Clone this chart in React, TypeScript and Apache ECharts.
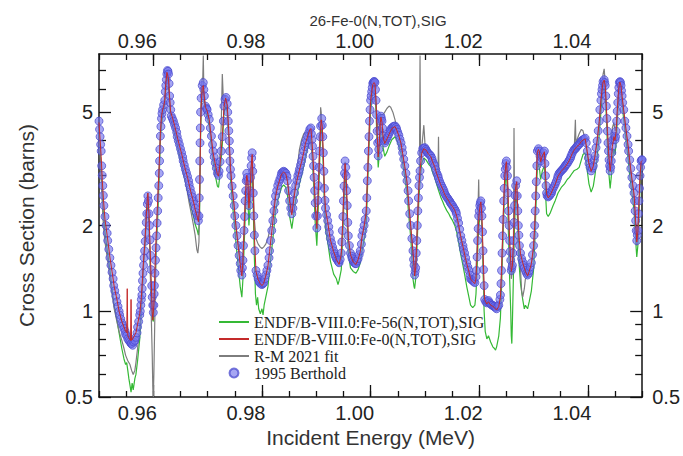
import React, { useEffect, useRef } from "react";
import * as echarts from "echarts";

const chartTitle = "26-Fe-0(N,TOT),SIG";
const xTitle = "Incident Energy (MeV)";
const yTitle = "Cross Section (barns)";
const seriesNames = [
  "ENDF/B-VIII.0:Fe-56(N,TOT),SIG",
  "ENDF/B-VIII.0:Fe-0(N,TOT),SIG",
  "R-M 2021 fit",
  "1995 Berthold",
];
const xMajorTicks = [0.96, 0.98, 1.0, 1.02, 1.04];
const yMajorTicks = [0.5, 1, 2, 5];
const yMinorTicks = [0.6, 0.7, 0.8, 0.9, 3, 4, 6, 7];

const bertholdData = [
[0.9500,4.65],[0.9501,4.35],[0.9502,4.1],[0.9503,3.85],[0.9504,3.65],[0.9505,3.24],[0.9506,3.0],[0.9507,2.76],[0.9508,2.55],[0.9509,2.35],[0.9511,2.15],[0.9513,2.0],[0.9515,1.88],[0.9516,1.77],[0.9518,1.65],[0.9520,1.54],[0.9522,1.45],[0.9524,1.37],[0.9526,1.3],[0.9527,1.23],[0.9529,1.18],[0.9531,1.13],[0.9533,1.08],[0.9535,1.04],[0.9537,1.0],[0.9538,0.97],[0.9540,0.94],[0.9542,0.91],[0.9544,0.89],[0.9546,0.87],[0.9548,0.85],[0.9549,0.83],[0.9551,0.82],[0.9553,0.80],[0.9555,0.79],[0.9557,0.78],[0.9559,0.77],[0.9560,0.77],[0.9562,0.76],[0.9564,0.78],[0.9566,0.79],[0.9568,0.81],[0.9570,0.84],[0.9571,0.88],[0.9573,0.92],[0.9575,0.97],[0.9576,1.0],[0.9577,1.05],[0.9578,1.1],[0.9579,1.14],[0.95795,1.2],[0.9580,1.28],[0.9581,1.36],[0.9582,1.45],[0.9583,1.54],[0.9584,1.63],[0.9585,1.76],[0.9586,1.89],[0.9587,2.05],[0.9588,2.2],[0.9589,2.38],[0.9590,2.54],[0.9591,2.44],[0.9592,2.2],[0.9593,2.0],[0.9594,1.78],[0.9595,1.57],[0.9596,1.4],[0.9597,1.23],[0.9598,1.12],[0.9599,1.05],[0.9600,0.99],[0.9601,1.05],[0.96015,1.15],[0.9602,1.23],[0.9603,1.36],[0.9604,1.51],[0.9605,1.67],[0.9606,1.84],[0.9607,2.04],[0.9608,2.25],[0.9609,2.5],[0.9610,2.76],[0.9611,3.05],[0.96115,3.37],[0.9612,3.7],[0.9613,4.12],[0.9614,4.45],[0.9615,4.75],[0.9616,4.95],[0.9617,5.1],[0.9619,5.3],[0.9621,5.5],[0.9622,5.9],[0.9623,6.2],[0.9624,6.5],[0.9625,6.8],[0.9626,7.0],[0.9627,6.95],[0.9628,6.8],[0.9629,6.3],[0.9630,5.7],[0.9631,5.4],[0.9632,5.1],[0.9633,4.85],[0.9635,4.75],[0.9637,4.65],[0.9639,4.52],[0.9641,4.4],[0.9643,4.25],[0.9644,4.1],[0.9646,3.97],[0.9648,3.85],[0.9650,3.72],[0.9652,3.6],[0.9654,3.48],[0.9655,3.37],[0.9657,3.26],[0.9659,3.15],[0.9661,3.06],[0.9663,2.97],[0.9665,2.87],[0.9666,2.78],[0.9668,2.69],[0.9670,2.6],[0.9672,2.52],[0.9674,2.44],[0.9676,2.37],[0.9677,2.3],[0.9679,2.22],[0.9681,2.16],[0.9683,2.08],[0.9684,2.16],[0.96845,2.5],[0.9685,2.9],[0.96855,3.37],[0.9686,3.9],[0.96865,4.4],[0.9687,5.0],[0.9688,5.6],[0.9690,6.2],[0.9692,6.35],[0.9693,6.0],[0.9694,5.7],[0.9696,5.25],[0.9698,5.15],[0.9699,5.1],[0.9701,4.9],[0.9703,4.72],[0.9705,4.4],[0.9707,4.12],[0.9709,3.85],[0.9710,3.65],[0.9712,3.48],[0.9714,3.32],[0.9716,3.18],[0.9718,3.05],[0.9720,3.0],[0.9721,3.1],[0.9723,3.35],[0.9725,3.65],[0.9727,4.1],[0.9729,4.65],[0.9730,5.25],[0.9732,5.55],[0.9734,5.63],[0.9736,5.35],[0.9737,5.0],[0.9738,4.65],[0.9739,4.3],[0.9740,3.96],[0.97405,3.65],[0.9741,3.37],[0.9742,3.15],[0.9743,2.99],[0.9745,2.75],[0.9747,2.54],[0.9749,2.35],[0.9750,2.16],[0.9752,2.0],[0.9754,1.84],[0.9756,1.7],[0.9758,1.57],[0.9760,1.47],[0.9761,1.39],[0.9763,1.34],[0.9764,1.42],[0.9765,1.51],[0.9766,1.7],[0.9767,1.92],[0.9768,2.15],[0.9769,2.44],[0.9770,2.65],[0.9771,2.87],[0.9772,3.05],[0.9773,2.95],[0.9774,2.87],[0.9775,2.6],[0.9776,2.35],[0.9777,2.5],[0.9778,2.65],[0.9779,2.95],[0.9780,3.24],[0.9781,3.45],[0.9782,3.6],[0.9783,3.1],[0.9784,2.6],[0.9785,2.16],[0.9786,1.85],[0.9787,1.63],[0.9789,1.39],[0.9791,1.34],[0.9793,1.3],[0.9795,1.27],[0.9796,1.26],[0.9798,1.25],[0.9800,1.24],[0.9802,1.25],[0.9803,1.26],[0.9805,1.3],[0.9807,1.34],[0.9809,1.39],[0.9811,1.45],[0.9813,1.54],[0.9814,1.63],[0.9816,1.77],[0.9818,1.92],[0.9820,2.08],[0.9822,2.25],[0.9824,2.4],[0.9825,2.54],[0.9827,2.65],[0.9829,2.76],[0.9831,2.84],[0.9833,2.91],[0.9835,2.98],[0.9836,3.05],[0.9838,3.08],[0.9840,3.1],[0.9842,3.08],[0.9844,3.05],[0.9846,2.98],[0.9847,2.87],[0.9849,2.65],[0.9851,2.44],[0.9853,2.3],[0.9855,2.2],[0.9857,2.3],[0.9858,2.44],[0.9860,2.6],[0.9862,2.76],[0.9864,2.88],[0.9866,2.99],[0.9868,3.07],[0.9869,3.15],[0.9871,3.26],[0.9873,3.37],[0.9875,3.5],[0.9877,3.65],[0.9879,3.78],[0.9880,3.9],[0.9882,4.0],[0.9884,4.12],[0.9886,4.23],[0.9888,4.35],[0.9890,4.4],[0.9891,4.2],[0.9892,4.0],[0.9893,3.8],[0.9894,3.5],[0.9895,3.24],[0.9896,2.95],[0.9897,2.65],[0.9898,2.4],[0.9899,2.16],[0.9901,1.96],[0.9902,2.16],[0.9903,2.45],[0.9904,2.76],[0.9905,3.2],[0.9906,3.65],[0.9907,4.1],[0.9908,4.47],[0.9910,4.75],[0.9911,4.5],[0.9912,4.1],[0.9913,3.6],[0.9914,3.1],[0.9915,2.7],[0.9916,2.45],[0.9917,2.3],[0.9919,2.18],[0.9921,2.08],[0.9923,1.98],[0.9924,1.89],[0.9926,1.8],[0.9928,1.74],[0.9930,1.68],[0.9932,1.63],[0.9934,1.59],[0.9935,1.56],[0.9937,1.53],[0.9939,1.51],[0.9941,1.49],[0.9942,1.48],[0.9944,1.52],[0.9946,1.6],[0.9947,1.75],[0.9948,1.92],[0.9949,2.15],[0.9950,2.44],[0.9951,2.75],[0.9952,3.05],[0.9953,3.37],[0.9954,3.2],[0.9955,2.99],[0.9956,2.65],[0.9957,2.35],[0.9958,2.05],[0.9959,1.84],[0.9961,1.7],[0.9963,1.6],[0.9965,1.56],[0.9966,1.53],[0.9968,1.5],[0.9970,1.48],[0.9972,1.47],[0.9973,1.47],[0.9975,1.5],[0.9977,1.53],[0.9979,1.58],[0.9981,1.63],[0.9983,1.72],[0.9984,1.84],[0.9986,1.92],[0.9988,2.0],[0.9990,2.1],[0.9992,2.25],[0.9993,2.5],[0.9994,2.87],[0.9995,3.2],[0.9996,3.65],[0.9997,4.1],[0.9998,4.65],[0.9999,5.1],[1.0000,5.5],[1.0001,5.7],[1.0002,5.9],[1.0003,6.1],[1.0004,6.3],[1.0005,6.35],[1.0006,6.4],[1.0007,6.4],[1.0008,6.35],[1.0009,6.0],[1.0010,5.5],[1.0011,4.9],[1.0012,4.29],[1.0013,3.9],[1.0014,3.51],[1.0015,3.7],[1.0016,3.96],[1.0017,4.3],[1.0018,4.65],[1.0019,4.84],[1.0020,4.75],[1.0021,4.65],[1.0022,4.4],[1.0023,4.12],[1.0025,3.96],[1.0026,3.9],[1.0028,3.98],[1.0030,4.05],[1.0032,4.12],[1.0034,4.2],[1.0036,4.28],[1.0037,4.35],[1.0039,4.4],[1.0041,4.44],[1.0043,4.46],[1.0045,4.47],[1.0047,4.42],[1.0048,4.35],[1.0050,4.25],[1.0052,4.15],[1.0054,4.02],[1.0056,3.9],[1.0058,3.75],[1.0059,3.6],[1.0061,3.42],[1.0063,3.24],[1.0065,3.05],[1.0067,2.87],[1.0069,2.65],[1.0070,2.44],[1.0072,2.2],[1.0074,2.0],[1.0076,1.8],[1.0078,1.63],[1.0079,1.52],[1.0080,1.45],[1.0081,1.34],[1.0082,1.38],[1.0083,1.42],[1.0084,1.6],[1.0085,1.77],[1.0086,2.0],[1.0087,2.25],[1.0088,2.5],[1.0089,2.76],[1.0090,2.95],[1.0091,3.11],[1.0092,3.37],[1.0094,3.6],[1.0096,3.72],[1.0098,3.74],[1.0100,3.75],[1.0102,3.7],[1.0103,3.65],[1.0105,3.6],[1.0107,3.57],[1.0109,3.54],[1.0111,3.51],[1.0113,3.44],[1.0114,3.37],[1.0116,3.3],[1.0118,3.24],[1.0120,3.14],[1.0122,3.05],[1.0124,2.99],[1.0125,2.93],[1.0127,2.86],[1.0129,2.8],[1.0131,2.75],[1.0133,2.7],[1.0135,2.65],[1.0136,2.6],[1.0138,2.56],[1.0140,2.52],[1.0142,2.49],[1.0144,2.46],[1.0146,2.43],[1.0147,2.4],[1.0149,2.37],[1.0151,2.35],[1.0153,2.31],[1.0155,2.28],[1.0157,2.24],[1.0158,2.2],[1.0160,2.12],[1.0162,2.04],[1.0164,1.94],[1.0166,1.84],[1.0168,1.77],[1.0170,1.7],[1.0171,1.65],[1.0173,1.6],[1.0175,1.54],[1.0177,1.48],[1.0179,1.43],[1.0181,1.39],[1.0183,1.34],[1.0184,1.3],[1.0186,1.29],[1.0188,1.28],[1.0190,1.27],[1.0192,1.26],[1.0194,1.32],[1.0195,1.39],[1.0196,1.55],[1.0197,1.77],[1.0198,1.95],[1.0199,2.16],[1.0200,2.25],[1.0201,2.35],[1.0202,2.4],[1.0203,2.44],[1.0204,2.3],[1.0205,2.16],[1.0206,1.9],[1.0207,1.63],[1.0208,1.4],[1.0209,1.23],[1.0210,1.1],[1.0212,1.08],[1.0214,1.07],[1.0216,1.08],[1.0217,1.09],[1.0219,1.07],[1.0221,1.06],[1.0223,1.05],[1.0225,1.05],[1.0227,1.04],[1.0228,1.04],[1.0230,1.03],[1.0232,1.02],[1.0234,1.04],[1.0236,1.05],[1.0238,1.1],[1.0239,1.14],[1.0240,1.25],[1.0241,1.39],[1.0242,1.6],[1.0243,1.84],[1.0244,2.1],[1.0245,2.44],[1.0246,2.7],[1.0247,2.99],[1.0248,3.15],[1.0249,3.3],[1.0250,3.37],[1.0251,3.2],[1.0252,2.99],[1.0253,2.6],[1.0254,2.25],[1.0255,2.0],[1.0256,1.77],[1.0257,1.62],[1.0258,1.51],[1.0259,1.39],[1.0260,1.42],[1.0261,1.45],[1.0262,1.6],[1.0263,1.77],[1.0264,2.05],[1.0265,2.35],[1.0266,2.55],[1.0267,2.76],[1.0269,2.87],[1.0270,2.54],[1.0271,2.25],[1.0272,2.0],[1.0273,1.85],[1.0274,1.7],[1.0276,1.6],[1.0278,1.53],[1.0280,1.49],[1.0281,1.45],[1.0283,1.42],[1.0285,1.39],[1.0287,1.36],[1.0289,1.34],[1.0291,1.36],[1.0292,1.39],[1.0294,1.43],[1.0296,1.48],[1.0298,1.58],[1.0300,1.7],[1.0301,1.85],[1.0302,2.0],[1.0303,2.25],[1.0304,2.54],[1.0305,2.85],[1.0306,3.24],[1.0307,3.65],[1.0309,3.72],[1.0311,3.65],[1.0312,3.5],[1.0313,3.37],[1.0315,3.45],[1.0316,3.51],[1.0318,3.6],[1.0320,3.65],[1.0321,3.3],[1.0322,2.99],[1.0323,2.76],[1.0324,2.6],[1.0325,2.54],[1.0327,2.52],[1.0329,2.54],[1.0331,2.57],[1.0333,2.6],[1.0334,2.65],[1.0336,2.7],[1.0338,2.75],[1.0340,2.8],[1.0342,2.86],[1.0344,2.93],[1.0345,2.99],[1.0347,3.05],[1.0349,3.08],[1.0351,3.11],[1.0353,3.14],[1.0355,3.17],[1.0357,3.2],[1.0358,3.24],[1.0360,3.27],[1.0362,3.3],[1.0364,3.35],[1.0366,3.4],[1.0368,3.45],[1.0369,3.51],[1.0371,3.58],[1.0373,3.65],[1.0375,3.7],[1.0377,3.72],[1.0379,3.76],[1.0380,3.8],[1.0382,3.83],[1.0384,3.85],[1.0386,3.9],[1.0388,3.96],[1.0390,3.98],[1.0391,4.0],[1.0393,4.02],[1.0395,4.05],[1.0397,3.9],[1.0399,3.65],[1.0401,3.45],[1.0402,3.3],[1.0404,3.2],[1.0406,3.11],[1.0408,3.18],[1.0410,3.24],[1.0412,3.4],[1.0413,3.51],[1.0415,3.75],[1.0417,3.96],[1.0419,4.3],[1.0421,4.65],[1.0422,5.1],[1.0424,5.5],[1.0425,5.8],[1.0426,6.0],[1.0427,6.2],[1.0428,6.4],[1.0430,6.5],[1.0431,6.35],[1.0432,6.2],[1.0433,5.7],[1.0434,5.25],[1.0435,4.75],[1.0436,4.29],[1.0437,3.9],[1.0438,3.65],[1.0439,3.4],[1.0440,3.24],[1.0441,3.11],[1.0442,3.2],[1.0443,3.37],[1.0444,3.6],[1.0445,3.8],[1.0446,4.0],[1.0448,4.12],[1.0450,4.0],[1.0451,4.1],[1.0452,4.29],[1.0453,4.65],[1.0454,5.04],[1.0455,5.4],[1.0456,5.8],[1.0457,6.1],[1.0458,6.35],[1.0459,6.4],[1.0460,6.35],[1.0461,6.2],[1.0462,5.95],[1.0463,5.7],[1.0464,5.4],[1.0466,5.1],[1.0468,4.65],[1.0470,4.4],[1.0472,4.12],[1.0474,3.85],[1.0475,3.65],[1.0477,3.4],[1.0479,3.17],[1.0481,2.95],[1.0483,2.76],[1.0485,2.6],[1.0486,2.44],[1.0487,2.25],[1.0488,2.08],[1.0489,1.92],[1.0490,1.77],[1.0491,1.85],[1.0492,1.92],[1.0493,2.2],[1.0494,2.44],[1.0495,2.7],[1.0496,2.99],[1.0497,3.2],[1.0498,3.37],[1.0499,3.4],[1.0500,3.4]
];

const endf0Data = [
[0.9500,4.6],[0.9502,4.0],[0.9504,3.5],[0.9506,2.9],[0.9508,2.5],[0.9511,2.1],[0.9515,1.85],[0.9520,1.55],[0.9524,1.38],[0.9528,1.22],[0.9533,1.1],[0.9537,1.0],[0.9542,0.92],[0.9546,0.88],[0.9549,0.85],[0.9551,0.84],[0.9552,1.2],[0.9553,0.82],[0.9556,0.8],[0.9558,0.79],[0.9559,1.1],[0.9560,0.79],[0.9562,0.8],[0.9565,0.82],[0.9568,0.84],[0.9571,0.9],[0.9575,0.98],[0.9578,1.12],[0.9580,1.3],[0.9582,1.5],[0.9585,1.8],[0.9587,2.15],[0.9589,2.5],[0.9590,2.6],[0.9592,2.2],[0.9594,1.7],[0.9596,1.3],[0.9598,1.0],[0.9599,0.93],[0.9601,1.05],[0.9603,1.4],[0.9605,1.8],[0.9607,2.2],[0.9609,2.7],[0.9611,3.3],[0.9613,4.2],[0.9615,4.8],[0.9617,5.1],[0.9619,5.2],[0.9621,5.5],[0.9623,6.3],[0.9625,6.9],[0.9626,6.8],[0.9628,6.5],[0.9630,5.6],[0.9632,5.0],[0.9635,4.8],[0.9639,4.5],[0.9644,4.1],[0.9648,3.82],[0.9652,3.58],[0.9655,3.38],[0.9659,3.14],[0.9663,2.95],[0.9666,2.78],[0.9670,2.58],[0.9674,2.42],[0.9677,2.28],[0.9681,2.14],[0.9683,2.06],[0.9685,2.3],[0.9686,3.2],[0.9687,4.3],[0.9688,5.2],[0.9690,6.1],[0.9692,6.2],[0.9694,5.6],[0.9696,5.2],[0.9699,5.05],[0.9703,4.7],[0.9707,4.05],[0.9710,3.6],[0.9714,3.3],[0.9718,3.02],[0.9720,2.98],[0.9723,3.3],[0.9727,4.1],[0.9730,5.2],[0.9733,5.6],[0.9736,5.3],[0.9738,4.6],[0.9740,3.9],[0.9742,3.2],[0.9745,2.75],[0.9749,2.33],[0.9752,2.0],[0.9756,1.7],[0.9760,1.46],[0.9763,1.33],[0.9765,1.5],[0.9767,1.9],[0.9769,2.4],[0.9771,2.85],[0.9772,3.0],[0.9774,2.85],[0.9776,2.3],[0.9778,2.6],[0.9780,3.2],[0.9782,3.55],[0.9784,2.6],[0.9786,1.85],[0.9789,1.38],[0.9793,1.29],[0.9797,1.25],[0.9800,1.23],[0.9803,1.25],[0.9807,1.33],[0.9811,1.44],[0.9814,1.62],[0.9818,1.9],[0.9822,2.23],[0.9825,2.52],[0.9829,2.74],[0.9833,2.9],[0.9836,3.03],[0.9840,3.08],[0.9844,3.03],[0.9847,2.85],[0.9851,2.42],[0.9855,2.18],[0.9858,2.42],[0.9862,2.74],[0.9866,2.97],[0.9869,3.13],[0.9873,3.35],[0.9877,3.62],[0.9880,3.88],[0.9884,4.1],[0.9888,4.33],[0.9890,4.38],[0.9892,3.98],[0.9894,3.48],[0.9896,2.93],[0.9898,2.38],[0.9901,1.95],[0.9903,2.42],[0.9905,3.15],[0.9907,4.05],[0.9909,4.7],[0.9911,4.45],[0.9913,3.55],[0.9915,2.68],[0.9917,2.28],[0.9921,2.06],[0.9926,1.78],[0.9932,1.62],[0.9937,1.52],[0.9942,1.46],[0.9946,1.58],[0.9948,1.9],[0.9950,2.4],[0.9952,3.0],[0.9953,3.3],[0.9955,2.95],[0.9957,2.32],[0.9959,1.82],[0.9963,1.58],[0.9968,1.49],[0.9973,1.46],[0.9977,1.52],[0.9981,1.62],[0.9984,1.82],[0.9988,1.98],[0.9992,2.22],[0.9994,2.85],[0.9996,3.6],[0.9998,4.6],[1.0000,5.45],[1.0002,5.85],[1.0004,6.25],[1.0006,6.35],[1.0008,6.3],[1.0010,5.45],[1.0012,4.25],[1.0014,3.48],[1.0016,3.92],[1.0018,4.6],[1.0019,4.8],[1.0021,4.6],[1.0023,4.1],[1.0026,3.88],[1.0030,4.02],[1.0034,4.18],[1.0039,4.38],[1.0045,4.45],[1.0048,4.33],[1.0052,4.13],[1.0056,3.88],[1.0059,3.58],[1.0063,3.22],[1.0067,2.85],[1.0070,2.42],[1.0074,1.98],[1.0078,1.62],[1.0080,1.44],[1.0081,1.33],[1.0083,1.42],[1.0085,1.76],[1.0087,2.23],[1.0089,2.74],[1.0091,3.1],[1.0094,3.58],[1.0098,3.72],[1.0102,3.68],[1.0107,3.55],[1.0111,3.49],[1.0114,3.35],[1.0118,3.22],[1.0122,3.03],[1.0125,2.92],[1.0129,2.78],[1.0133,2.68],[1.0136,2.58],[1.0140,2.5],[1.0144,2.44],[1.0147,2.38],[1.0151,2.33],[1.0155,2.26],[1.0158,2.18],[1.0162,2.02],[1.0166,1.83],[1.0170,1.69],[1.0173,1.59],[1.0177,1.47],[1.0181,1.38],[1.0184,1.3],[1.0188,1.27],[1.0192,1.25],[1.0194,1.3],[1.0196,1.55],[1.0198,1.95],[1.0200,2.22],[1.0202,2.38],[1.0203,2.42],[1.0205,2.15],[1.0207,1.62],[1.0209,1.22],[1.0210,1.1],[1.0214,1.06],[1.0217,1.08],[1.0221,1.05],[1.0225,1.04],[1.0228,1.03],[1.0232,1.01],[1.0236,1.04],[1.0239,1.12],[1.0241,1.38],[1.0243,1.82],[1.0245,2.42],[1.0247,2.97],[1.0249,3.28],[1.0250,3.35],[1.0252,2.97],[1.0254,2.23],[1.0256,1.76],[1.0258,1.5],[1.0259,1.38],[1.0261,1.44],[1.0263,1.76],[1.0265,2.33],[1.0267,2.74],[1.0269,2.85],[1.0271,2.23],[1.0273,1.84],[1.0276,1.59],[1.0280,1.48],[1.0285,1.38],[1.0289,1.33],[1.0292,1.38],[1.0296,1.47],[1.0300,1.69],[1.0302,1.98],[1.0304,2.52],[1.0306,3.22],[1.0307,3.62],[1.0309,3.7],[1.0311,3.62],[1.0313,3.35],[1.0316,3.5],[1.0320,3.63],[1.0322,2.97],[1.0324,2.58],[1.0327,2.5],[1.0331,2.56],[1.0336,2.69],[1.0340,2.79],[1.0345,2.98],[1.0351,3.1],[1.0357,3.19],[1.0362,3.29],[1.0366,3.39],[1.0371,3.57],[1.0375,3.69],[1.0380,3.79],[1.0384,3.84],[1.0388,3.95],[1.0391,3.99],[1.0395,4.03],[1.0399,3.63],[1.0402,3.29],[1.0406,3.1],[1.0410,3.23],[1.0413,3.5],[1.0417,3.95],[1.0421,4.63],[1.0424,5.48],[1.0426,5.98],[1.0428,6.38],[1.0430,6.48],[1.0432,6.18],[1.0434,5.23],[1.0436,4.28],[1.0438,3.63],[1.0441,3.1],[1.0443,3.35],[1.0445,3.78],[1.0448,4.1],[1.0450,3.98],[1.0452,4.28],[1.0454,5.02],[1.0456,5.78],[1.0458,6.33],[1.0459,6.38],[1.0461,6.18],[1.0463,5.68],[1.0466,5.08],[1.0470,4.38],[1.0474,3.83],[1.0477,3.38],[1.0481,2.93],[1.0485,2.58],[1.0487,2.23],[1.0489,1.9],[1.0490,1.75],[1.0492,1.9],[1.0494,2.42],[1.0496,2.97],[1.0498,3.35],[1.0500,3.38]
];

const endf56Data = [
[0.9500,4.3],[0.9502,3.7],[0.9504,3.1],[0.9506,2.6],[0.9508,2.2],[0.9511,1.9],[0.9515,1.65],[0.9520,1.4],[0.9524,1.2],[0.9528,1.05],[0.9533,0.93],[0.9537,0.84],[0.9542,0.74],[0.9546,0.68],[0.9549,0.65],[0.9551,0.66],[0.9553,0.62],[0.9555,0.58],[0.9557,0.55],[0.9559,0.52],[0.9561,0.56],[0.9563,0.53],[0.9566,0.58],[0.9568,0.6],[0.9571,0.67],[0.9575,0.8],[0.9578,1.0],[0.9580,1.2],[0.9582,1.45],[0.9585,1.75],[0.9587,2.05],[0.9589,2.4],[0.9590,2.45],[0.9592,2.0],[0.9594,1.5],[0.9596,1.15],[0.9598,0.95],[0.9600,0.92],[0.9602,1.1],[0.9605,1.6],[0.9608,2.1],[0.9611,3.0],[0.9613,4.0],[0.9615,4.5],[0.9617,4.8],[0.9619,5.0],[0.9621,5.3],[0.9623,6.0],[0.9625,6.6],[0.9626,6.6],[0.9628,6.2],[0.9630,5.3],[0.9632,4.7],[0.9635,4.5],[0.9639,4.2],[0.9644,3.8],[0.9648,3.5],[0.9652,3.28],[0.9655,3.08],[0.9659,2.85],[0.9663,2.65],[0.9666,2.48],[0.9670,2.3],[0.9674,2.15],[0.9677,2.02],[0.9681,1.92],[0.9683,1.85],[0.9685,2.1],[0.9686,3.0],[0.9687,4.1],[0.9688,5.0],[0.9690,5.9],[0.9692,6.0],[0.9694,5.4],[0.9696,5.0],[0.9699,4.85],[0.9703,4.45],[0.9707,3.8],[0.9710,3.35],[0.9714,3.0],[0.9718,2.75],[0.9720,2.72],[0.9723,3.05],[0.9727,3.85],[0.9730,4.9],[0.9733,5.3],[0.9736,5.0],[0.9738,4.3],[0.9740,3.6],[0.9742,2.95],[0.9745,2.45],[0.9749,2.05],[0.9752,1.75],[0.9756,1.45],[0.9760,1.22],[0.9763,1.12],[0.9765,1.3],[0.9767,1.65],[0.9769,2.1],[0.9771,2.55],[0.9772,2.7],[0.9774,2.5],[0.9776,2.0],[0.9778,2.3],[0.9780,2.9],[0.9782,3.3],[0.9784,2.3],[0.9786,1.55],[0.9788,1.15],[0.9790,1.05],[0.9792,1.12],[0.9794,1.02],[0.9797,0.98],[0.9800,1.02],[0.9802,0.97],[0.9804,1.05],[0.9807,1.12],[0.9811,1.22],[0.9814,1.4],[0.9818,1.65],[0.9822,1.95],[0.9825,2.25],[0.9829,2.45],[0.9833,2.6],[0.9836,2.72],[0.9840,2.78],[0.9844,2.72],[0.9847,2.55],[0.9851,2.15],[0.9855,1.95],[0.9858,2.15],[0.9862,2.45],[0.9866,2.65],[0.9869,2.8],[0.9873,3.0],[0.9877,3.25],[0.9880,3.5],[0.9884,3.75],[0.9888,4.0],[0.9890,4.05],[0.9892,3.6],[0.9894,3.1],[0.9896,2.55],[0.9898,2.05],[0.9901,1.7],[0.9903,2.1],[0.9905,2.8],[0.9907,3.7],[0.9909,4.35],[0.9911,4.1],[0.9913,3.2],[0.9915,2.35],[0.9917,1.95],[0.9921,1.75],[0.9926,1.5],[0.9932,1.35],[0.9937,1.3],[0.9940,1.24],[0.9942,1.28],[0.9946,1.4],[0.9948,1.7],[0.9950,2.15],[0.9952,2.7],[0.9953,3.0],[0.9955,2.65],[0.9957,2.05],[0.9959,1.6],[0.9963,1.42],[0.9968,1.38],[0.9973,1.36],[0.9977,1.4],[0.9981,1.48],[0.9984,1.62],[0.9988,1.78],[0.9992,2.0],[0.9994,2.6],[0.9996,3.3],[0.9998,4.2],[1.0000,5.0],[1.0002,5.5],[1.0004,5.9],[1.0006,6.0],[1.0008,5.9],[1.0010,5.0],[1.0012,3.9],[1.0014,3.2],[1.0016,3.55],[1.0018,4.2],[1.0019,4.4],[1.0021,4.2],[1.0023,3.75],[1.0026,3.5],[1.0030,3.62],[1.0034,3.8],[1.0039,4.0],[1.0045,4.1],[1.0048,4.0],[1.0052,3.82],[1.0056,3.58],[1.0059,3.3],[1.0063,2.95],[1.0067,2.6],[1.0070,2.2],[1.0074,1.8],[1.0076,1.55],[1.0078,1.3],[1.0080,1.22],[1.0081,1.2],[1.0083,1.3],[1.0085,1.6],[1.0087,2.0],[1.0089,2.5],[1.0091,2.85],[1.0094,3.3],[1.0098,3.45],[1.0102,3.4],[1.0107,3.28],[1.0111,3.22],[1.0114,3.08],[1.0118,2.95],[1.0122,2.78],[1.0125,2.66],[1.0129,2.52],[1.0133,2.42],[1.0136,2.34],[1.0140,2.26],[1.0144,2.2],[1.0147,2.14],[1.0151,2.08],[1.0155,2.0],[1.0158,1.92],[1.0162,1.75],[1.0166,1.58],[1.0170,1.45],[1.0173,1.35],[1.0177,1.22],[1.0181,1.12],[1.0184,1.05],[1.0188,1.03],[1.0192,1.05],[1.0194,1.15],[1.0196,1.4],[1.0198,1.8],[1.0200,2.05],[1.0202,2.2],[1.0203,2.25],[1.0205,1.95],[1.0207,1.4],[1.0209,1.0],[1.0211,0.85],[1.0214,0.8],[1.0217,0.82],[1.0221,0.78],[1.0225,0.75],[1.0228,0.74],[1.0230,0.73],[1.0232,0.75],[1.0236,0.82],[1.0239,0.95],[1.0241,1.2],[1.0243,1.6],[1.0245,2.15],[1.0247,2.7],[1.0249,3.0],[1.0250,3.05],[1.0252,2.6],[1.0254,1.8],[1.0256,1.3],[1.0258,1.0],[1.0259,0.82],[1.0260,0.77],[1.0261,0.9],[1.0263,1.35],[1.0265,2.0],[1.0267,2.45],[1.0269,2.55],[1.0271,1.95],[1.0273,1.5],[1.0276,1.25],[1.0280,1.1],[1.0283,1.02],[1.0285,1.05],[1.0289,1.02],[1.0292,1.08],[1.0296,1.18],[1.0300,1.4],[1.0302,1.7],[1.0304,2.2],[1.0306,2.85],[1.0307,3.2],[1.0309,3.3],[1.0311,3.15],[1.0313,2.9],[1.0316,3.1],[1.0320,3.25],[1.0322,2.6],[1.0324,2.2],[1.0327,2.15],[1.0331,2.22],[1.0336,2.35],[1.0340,2.45],[1.0345,2.6],[1.0351,2.72],[1.0357,2.8],[1.0362,2.9],[1.0366,2.95],[1.0371,3.05],[1.0375,3.12],[1.0380,3.15],[1.0384,3.2],[1.0388,3.4],[1.0391,3.55],[1.0395,3.6],[1.0399,3.1],[1.0402,2.8],[1.0406,2.62],[1.0410,2.75],[1.0413,3.0],[1.0417,3.45],[1.0421,4.2],[1.0424,5.0],[1.0426,5.6],[1.0428,6.0],[1.0430,6.1],[1.0432,5.8],[1.0434,4.8],[1.0436,3.8],[1.0438,3.15],[1.0441,2.7],[1.0443,2.95],[1.0445,3.4],[1.0448,3.7],[1.0450,3.55],[1.0452,3.9],[1.0454,4.6],[1.0456,5.4],[1.0458,6.0],[1.0459,6.05],[1.0461,5.8],[1.0463,5.3],[1.0466,4.7],[1.0470,4.0],[1.0474,3.45],[1.0477,3.0],[1.0481,2.6],[1.0485,2.25],[1.0487,1.95],[1.0489,1.65],[1.0490,1.55],[1.0492,1.7],[1.0494,2.15],[1.0496,2.7],[1.0498,3.1],[1.0500,3.15]
];

const rmFitData = [
[0.9500,4.4],[0.9502,3.6],[0.9504,2.9],[0.9506,2.4],[0.9508,2.0],[0.9511,1.75],[0.9515,1.55],[0.9520,1.32],[0.9524,1.15],[0.9528,1.02],[0.9533,0.92],[0.9537,0.85],[0.9542,0.79],[0.9546,0.74],[0.9549,0.7],[0.9553,0.67],[0.9557,0.65],[0.9560,0.62],[0.9563,0.6],[0.9566,0.62],[0.9568,0.66],[0.9571,0.74],[0.9575,0.88],[0.9578,1.05],[0.9580,1.25],[0.9582,1.5],[0.9585,1.85],[0.9587,2.2],[0.9589,2.55],[0.9590,2.6],[0.9592,2.1],[0.9594,1.5],[0.9596,1.0],[0.9598,0.7],[0.9599,0.55],[0.9600,0.5],[0.9601,0.6],[0.9603,1.0],[0.9605,1.6],[0.9607,2.1],[0.9609,2.7],[0.9611,3.3],[0.9613,4.3],[0.9615,4.9],[0.9617,5.2],[0.9619,5.3],[0.9621,5.6],[0.9623,6.4],[0.9625,7.0],[0.9626,7.0],[0.9628,6.6],[0.9630,5.6],[0.9632,4.8],[0.9635,4.6],[0.9639,4.3],[0.9644,3.9],[0.9648,3.6],[0.9652,3.35],[0.9655,3.1],[0.9659,2.85],[0.9663,2.6],[0.9666,2.4],[0.9670,2.2],[0.9674,2.0],[0.9677,1.85],[0.9680,1.65],[0.9682,1.6],[0.9684,1.75],[0.9686,3.0],[0.9687,4.5],[0.9688,5.8],[0.9690,6.6],[0.9691,6.5],[0.9692,7.9],[0.9693,6.0],[0.9695,5.4],[0.9699,5.1],[0.9703,4.6],[0.9707,3.9],[0.9710,3.5],[0.9714,3.2],[0.9717,3.05],[0.9720,3.1],[0.9723,3.6],[0.9725,4.5],[0.9727,6.8],[0.9729,5.5],[0.9731,5.7],[0.9733,5.7],[0.9736,5.2],[0.9738,4.4],[0.9740,3.7],[0.9742,3.1],[0.9745,2.7],[0.9749,2.3],[0.9752,2.0],[0.9756,1.75],[0.9760,1.55],[0.9763,1.45],[0.9765,1.6],[0.9767,1.95],[0.9769,2.4],[0.9771,2.85],[0.9772,3.0],[0.9774,2.9],[0.9776,2.45],[0.9778,2.7],[0.9780,3.2],[0.9782,3.5],[0.9784,2.8],[0.9786,2.1],[0.9789,1.8],[0.9793,1.72],[0.9797,1.68],[0.9800,1.66],[0.9803,1.68],[0.9807,1.72],[0.9811,1.8],[0.9814,1.92],[0.9818,2.1],[0.9822,2.35],[0.9825,2.6],[0.9829,2.8],[0.9833,2.95],[0.9836,3.05],[0.9840,3.1],[0.9844,3.05],[0.9847,2.9],[0.9851,2.5],[0.9855,2.3],[0.9858,2.5],[0.9862,2.9],[0.9866,3.3],[0.9869,3.7],[0.9873,4.0],[0.9877,4.2],[0.9880,4.25],[0.9884,4.2],[0.9888,4.0],[0.9890,3.9],[0.9892,3.6],[0.9894,3.2],[0.9896,2.8],[0.9898,2.4],[0.9901,2.0],[0.9903,2.5],[0.9905,3.3],[0.9907,4.3],[0.9908,5.2],[0.9909,5.0],[0.9911,4.2],[0.9913,3.3],[0.9915,2.5],[0.9917,2.1],[0.9921,1.85],[0.9926,1.7],[0.9932,1.6],[0.9937,1.55],[0.9942,1.52],[0.9946,1.62],[0.9948,1.9],[0.9950,2.4],[0.9952,3.0],[0.9953,3.35],[0.9955,2.9],[0.9957,2.2],[0.9959,1.75],[0.9963,1.55],[0.9968,1.47],[0.9973,1.45],[0.9977,1.5],[0.9981,1.6],[0.9984,1.8],[0.9988,2.0],[0.9992,2.3],[0.9994,2.9],[0.9996,3.7],[0.9998,4.7],[1.0000,5.6],[1.0002,6.0],[1.0004,6.4],[1.0006,6.5],[1.0008,6.3],[1.0010,5.5],[1.0012,4.6],[1.0014,4.3],[1.0016,4.5],[1.0018,4.8],[1.0020,4.9],[1.0023,4.9],[1.0026,5.0],[1.0030,5.15],[1.0034,5.25],[1.0037,5.2],[1.0041,5.0],[1.0045,4.7],[1.0048,4.4],[1.0052,4.1],[1.0056,3.8],[1.0059,3.5],[1.0063,3.15],[1.0067,2.8],[1.0070,2.4],[1.0074,1.95],[1.0078,1.6],[1.0080,1.45],[1.0081,1.4],[1.0083,1.5],[1.0085,1.8],[1.0087,2.3],[1.0089,2.9],[1.0090,3.3],[1.0091,7.9],[1.0092,3.4],[1.0094,3.7],[1.0096,4.1],[1.0098,4.5],[1.0100,3.9],[1.0102,3.7],[1.0107,3.55],[1.0111,3.45],[1.0114,3.3],[1.0118,3.15],[1.0122,3.0],[1.0124,2.95],[1.0125,4.1],[1.0126,2.9],[1.0129,2.75],[1.0133,2.62],[1.0136,2.52],[1.0140,2.45],[1.0144,2.38],[1.0147,2.32],[1.0151,2.25],[1.0155,2.18],[1.0158,2.1],[1.0162,1.95],[1.0166,1.78],[1.0170,1.62],[1.0173,1.52],[1.0177,1.42],[1.0181,1.35],[1.0184,1.3],[1.0188,1.28],[1.0192,1.3],[1.0194,1.4],[1.0196,1.7],[1.0198,2.4],[1.0199,2.9],[1.0200,2.2],[1.0202,2.3],[1.0203,2.35],[1.0205,2.0],[1.0207,1.5],[1.0209,1.15],[1.0211,1.05],[1.0214,1.08],[1.0217,1.1],[1.0221,1.08],[1.0225,1.06],[1.0228,1.05],[1.0232,1.04],[1.0236,1.06],[1.0239,1.12],[1.0241,1.35],[1.0243,1.8],[1.0245,2.4],[1.0247,2.95],[1.0249,3.25],[1.0250,3.3],[1.0252,2.9],[1.0254,2.2],[1.0256,1.7],[1.0258,1.4],[1.0259,1.3],[1.0261,1.38],[1.0263,1.7],[1.0264,4.4],[1.0265,2.4],[1.0267,2.75],[1.0269,2.8],[1.0271,2.2],[1.0273,1.75],[1.0276,1.4],[1.0278,1.18],[1.0280,1.12],[1.0283,1.2],[1.0285,1.3],[1.0289,1.32],[1.0292,1.36],[1.0296,1.45],[1.0300,1.65],[1.0302,1.95],[1.0304,2.5],[1.0306,3.3],[1.0307,3.75],[1.0309,3.75],[1.0311,3.6],[1.0313,3.3],[1.0316,3.45],[1.0320,3.6],[1.0322,3.0],[1.0324,2.6],[1.0327,2.55],[1.0331,2.62],[1.0336,2.75],[1.0340,2.85],[1.0345,3.0],[1.0351,3.12],[1.0357,3.22],[1.0362,3.32],[1.0366,3.42],[1.0371,3.6],[1.0375,3.75],[1.0377,4.7],[1.0378,3.9],[1.0380,4.0],[1.0384,4.2],[1.0388,4.35],[1.0391,4.3],[1.0395,4.0],[1.0399,3.5],[1.0402,3.3],[1.0406,3.2],[1.0410,3.3],[1.0413,3.55],[1.0417,4.0],[1.0421,4.7],[1.0424,5.6],[1.0426,6.2],[1.0428,6.8],[1.0430,7.1],[1.0432,6.3],[1.0434,5.1],[1.0436,4.3],[1.0438,3.8],[1.0441,3.7],[1.0443,4.0],[1.0445,4.4],[1.0448,4.6],[1.0450,4.3],[1.0452,4.4],[1.0454,5.0],[1.0456,5.7],[1.0458,6.2],[1.0459,6.3],[1.0461,6.1],[1.0463,5.6],[1.0466,5.0],[1.0470,4.3],[1.0474,3.7],[1.0477,3.3],[1.0481,2.85],[1.0485,2.5],[1.0487,2.15],[1.0489,1.85],[1.0490,1.7],[1.0492,1.85],[1.0494,2.35],[1.0496,2.9],[1.0498,3.3],[1.0500,3.35]
];

const sansFont = "'Liberation Sans', Arial, sans-serif";
const serifFont = "'Liberation Serif', 'Times New Roman', serif";

export default function App() {
  const ref = useRef<HTMLDivElement>(null);

  useEffect(() => {
    if (!ref.current) return;
    const chart = echarts.init(ref.current, null, { renderer: "svg" });

    const xBase = {
      type: "value",
      min: 0.95,
      max: 1.05,
      splitLine: { show: false },
    };
    const yBase = {
      type: "log",
      logBase: 10,
      min: 0.5,
      max: 8,
      splitLine: { show: false },
      minorTick: { show: false },
    };
    const axisLineStyle = { show: true, onZero: false, lineStyle: { color: "#111", width: 1.5 } };
    const tickLine = { color: "#111", width: 1.3 };
    const labelStyle = { fontFamily: sansFont, fontSize: 20, color: "#222" };

    const option = {
      animation: false,
      backgroundColor: "#ffffff",
      title: {
        text: chartTitle,
        left: 373,
        top: 8,
        textAlign: "center",
        textStyle: { fontFamily: sansFont, fontSize: 15, fontWeight: "normal", color: "#333" },
      },
      grid: { left: 99, right: 37, top: 54, bottom: 59, containLabel: false },
      legend: {
        orient: "vertical",
        left: 218,
        top: 314,
        padding: 0,
        itemGap: 1,
        itemWidth: 30,
        itemHeight: 9,
        selectedMode: false,
        data: [
          { name: seriesNames[0], itemStyle: { opacity: 0 } },
          { name: seriesNames[1], itemStyle: { opacity: 0 } },
          { name: seriesNames[2], itemStyle: { opacity: 0 } },
          { name: seriesNames[3] },
        ],
        textStyle: { fontFamily: serifFont, fontSize: 16, lineHeight: 16, color: "#222" },
      },
      xAxis: [
        {
          ...xBase,
          position: "bottom",
          interval: 0.005,
          axisLine: axisLineStyle,
          axisTick: { show: true, inside: true, length: 6, lineStyle: tickLine },
          axisLabel: { show: false },
          name: xTitle,
          nameLocation: "middle",
          nameGap: 30,
          nameTextStyle: { fontFamily: sansFont, fontSize: 21, color: "#333" },
        },
        {
          ...xBase,
          position: "bottom",
          axisLine: { show: false },
          axisTick: { show: true, inside: true, length: 12, lineStyle: tickLine, customValues: xMajorTicks },
          axisLabel: {
            show: true,
            ...labelStyle,
            margin: 6,
            padding: [0, 32, 0, 0],
            customValues: xMajorTicks,
            formatter: (v: number) => v.toFixed(2),
          },
        },
        {
          ...xBase,
          position: "top",
          interval: 0.005,
          axisLine: axisLineStyle,
          axisTick: { show: true, inside: true, length: 6, lineStyle: tickLine },
          axisLabel: { show: false },
        },
        {
          ...xBase,
          position: "top",
          axisLine: { show: false },
          axisTick: { show: true, inside: true, length: 12, lineStyle: tickLine, customValues: xMajorTicks },
          axisLabel: {
            show: true,
            ...labelStyle,
            margin: 3,
            padding: [0, 32, 0, 0],
            customValues: xMajorTicks,
            formatter: (v: number) => v.toFixed(2),
          },
        },
      ],
      yAxis: [
        {
          ...yBase,
          position: "left",
          axisLine: axisLineStyle,
          axisTick: { show: true, inside: true, length: 12, lineStyle: tickLine, customValues: yMajorTicks },
          axisLabel: {
            show: true,
            ...labelStyle,
            margin: 6,
            customValues: yMajorTicks,
            formatter: (v: number) => String(v),
          },
          name: yTitle,
          nameLocation: "middle",
          nameGap: 62,
          nameRotate: 90,
          nameTextStyle: { fontFamily: sansFont, fontSize: 21, color: "#333" },
        },
        {
          ...yBase,
          position: "left",
          axisLine: { show: false },
          axisTick: { show: true, inside: true, length: 7, lineStyle: tickLine, customValues: yMinorTicks },
          axisLabel: { show: false },
        },
        {
          ...yBase,
          position: "right",
          axisLine: axisLineStyle,
          axisTick: { show: true, inside: true, length: 12, lineStyle: tickLine, customValues: yMajorTicks },
          axisLabel: {
            show: true,
            ...labelStyle,
            margin: 10,
            customValues: yMajorTicks,
            formatter: (v: number) => String(v),
          },
        },
        {
          ...yBase,
          position: "right",
          axisLine: { show: false },
          axisTick: { show: true, inside: true, length: 7, lineStyle: tickLine, customValues: yMinorTicks },
          axisLabel: { show: false },
        },
      ],
      series: [
        {
          name: seriesNames[0],
          type: "line",
          data: endf56Data,
          symbol: "none",
          showSymbol: false,
          lineStyle: { color: "#35b935", width: 1.2 },
          itemStyle: { color: "#35b935" },
          z: 2,
        },
        {
          name: seriesNames[2],
          type: "line",
          data: rmFitData,
          symbol: "none",
          showSymbol: false,
          lineStyle: { color: "#7d7d7d", width: 1.2 },
          itemStyle: { color: "#7d7d7d" },
          z: 3,
        },
        {
          name: seriesNames[3],
          type: "scatter",
          data: bertholdData,
          symbol: "circle",
          symbolSize: 8,
          itemStyle: {
            color: "rgba(112,112,236,0.78)",
            borderColor: "rgba(72,72,205,0.9)",
            borderWidth: 1,
          },
          z: 4,
        },
        {
          name: seriesNames[1],
          type: "line",
          data: endf0Data,
          symbol: "none",
          showSymbol: false,
          lineStyle: { color: "#c42a2a", width: 1 },
          itemStyle: { color: "#c42a2a" },
          z: 5,
        },
      ],
    };

    chart.setOption(option as any);
    return () => chart.dispose();
  }, []);

  return (
    <div
      ref={ref}
      style={{ position: "fixed", left: 0, top: 0, width: 683, height: 456, background: "#fff" }}
    />
  );
}
